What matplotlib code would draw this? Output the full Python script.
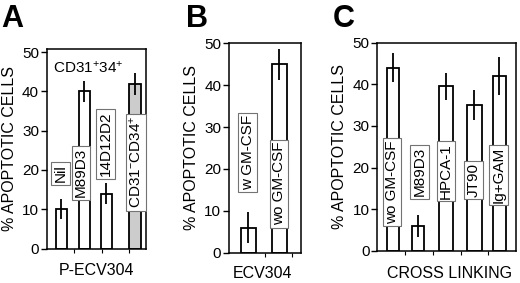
import matplotlib
matplotlib.use("Agg")
import matplotlib.pyplot as plt

plt.rcParams['font.family'] = ['Liberation Sans', 'DejaVu Sans']
plt.rcParams['mathtext.fontset'] = 'custom'
plt.rcParams['mathtext.rm'] = 'Liberation Sans'
plt.rcParams['mathtext.it'] = 'Liberation Sans'

# panel A: P-ECV304
a_labels = ["Nil", "M89D3", "14D12D2", "CD31$^{-}$CD34$^{+}$"]
a_values = [10, 40, 14, 42]
a_errors = [2.6, 2.7, 2.6, 2.8]

# panel B: ECV304
b_labels = ["w GM-CSF", "wo GM-CSF"]
b_values = [6, 45]
b_errors = [3.8, 3.7]

# panel C: cross linking
c_labels = ["wo GM-CSF", "M89D3", "HPCA-1", "JT90", "Ig+GAM"]
c_values = [44, 6, 39.5, 35, 42]
c_errors = [3.5, 2.6, 3.3, 3.7, 4.5]

W, H = 520, 283
fig = plt.figure(figsize=(W / 100, H / 100), dpi=100)


def px_axes(left, right, top, bottom):
    return fig.add_axes([left / W, 1 - bottom / H, (right - left) / W, (bottom - top) / H])


def style(ax, xlim, ylim, xticks):
    ax.set_xlim(*xlim)
    ax.set_ylim(*ylim)
    ax.set_yticks([0, 10, 20, 30, 40, 50])
    ax.set_xticks(xticks)
    ax.set_xticklabels([])
    ax.tick_params(axis='y', direction='out', length=4, width=1, labelsize=11, pad=1.5)
    ax.tick_params(axis='x', direction='out', length=3, width=0.8)
    for s in ax.spines.values():
        s.set_linewidth(1.1)


def boxlabel(ax, x, y, text):
    ax.text(x, y, text, rotation=90, ha='center', va='center', fontsize=11,
            bbox=dict(boxstyle='square,pad=0.15', fc='white', ec='0.45', lw=0.8))


def xlabel(xp, yp, text):
    fig.text(xp / W, 1 - yp / H, text, fontsize=11.5, ha='center', va='center')


bar_kw = dict(edgecolor='black', linewidth=1.3, zorder=2)
err_kw = dict(fmt='none', ecolor='black', elinewidth=1.3, capsize=0, zorder=3)

# ---- A
axA = px_axes(46.7, 146, 49, 248.5)
a_x = [0.52, 1.37, 2.16, 3.21]
a_w = [0.40, 0.40, 0.39, 0.45]
a_col = ['white', 'white', 'white', '#cccccc']
axA.bar(a_x, a_values, width=a_w, color=a_col, **bar_kw)
axA.errorbar(a_x, a_values, yerr=a_errors, **err_kw)
style(axA, (0, 3.6), (0, 50.8), [1, 2, 3])
for x, y, t in zip([0.50, 1.24, 2.13, 3.24], [19.1, 19.3, 26.6, 22.0], a_labels):
    boxlabel(axA, x, y, t)
axA.text(1.51, 46, "CD31$^{+}$34$^{+}$", ha='center', va='center', fontsize=11)
axA.set_ylabel("% APOPTOTIC CELLS", fontsize=11.5, labelpad=4)
xlabel(96.5, 270.5, "P-ECV304")

# ---- B
axB = px_axes(229, 301.5, 43.3, 252.7)
b_x = [0.70, 1.84]
axB.bar(b_x, b_values, width=0.55, color='white', **bar_kw)
axB.errorbar(b_x, b_values, yerr=b_errors, **err_kw)
style(axB, (0, 2.65), (0, 50), [1.32, 2.32])
for x, y, t in zip([0.68, 1.83], [23.9, 16.5], b_labels):
    boxlabel(axB, x, y, t)
axB.set_ylabel("% APOPTOTIC CELLS", fontsize=11.5, labelpad=4)
xlabel(262.5, 273, "ECV304")

# ---- C
axC = px_axes(377.3, 516, 42.7, 250.7)
c_x = [0.57, 1.46, 2.48, 3.49, 4.40]
c_w = [0.45, 0.44, 0.52, 0.54, 0.45]
axC.bar(c_x, c_values, width=c_w, color='white', **bar_kw)
axC.errorbar(c_x, c_values, yerr=c_errors, **err_kw)
style(axC, (0, 5), (0, 50), [1, 2, 3, 4])
for x, y, t in zip([0.53, 1.52, 2.48, 3.47, 4.37], [16.5, 19.0, 19.2, 17.0, 18.2], c_labels):
    boxlabel(axC, x, y, t)
axC.set_ylabel("% APOPTOTIC CELLS", fontsize=11.5, labelpad=4)
xlabel(450, 273, "CROSS LINKING")

# panel letters
for xp, letter in [(1, "A"), (186, "B"), (333, "C")]:
    fig.text(xp / W, 1 - 4 / H, letter, fontsize=22, fontweight='bold', ha='left', va='top')

fig.savefig("out.png", dpi=100)
